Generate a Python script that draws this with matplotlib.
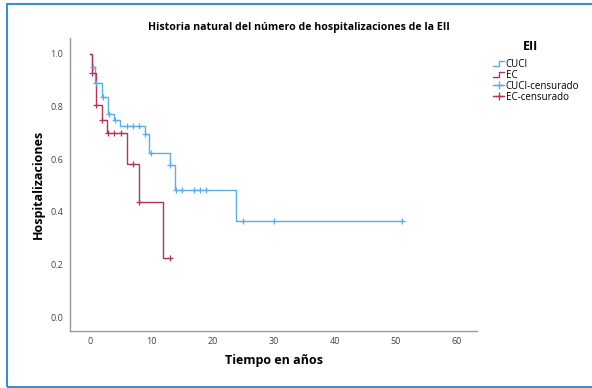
import numpy as np
import matplotlib.pyplot as plt
from matplotlib.lines import Line2D
from matplotlib.legend_handler import HandlerBase
from matplotlib.patches import Rectangle

plt.rcParams['font.family'] = ['Open Sans', 'DejaVu Sans']

# Kaplan-Meier curves (time in years, survival after the step)
cuci_t = [0, 0.3, 0.8, 2.0, 3.0, 4.0, 4.9, 9.0, 9.7, 13.0, 13.9, 23.9, 51.0]
cuci_s = [1.0, 0.95, 0.89, 0.836, 0.772, 0.749, 0.726, 0.696, 0.622, 0.579, 0.483, 0.365, 0.365]
cuci_cens = [0.45, 0.9, 2.1, 3.05, 4.05, 6.0, 7.0, 8.0, 9.05, 9.9, 13.05, 14.0, 15.1, 17.0, 18.0, 18.9, 25.0, 30.0, 51.0]

ec_t = [0, 0.3, 0.9, 1.9, 2.8, 6.0, 8.0, 12.0, 13.0]
ec_s = [1.0, 0.926, 0.806, 0.747, 0.698, 0.582, 0.438, 0.223, 0.223]
ec_cens = [0.4, 0.95, 2.0, 3.0, 4.0, 5.0, 7.0, 8.05, 13.0]

x_ticks = [0, 10, 20, 30, 40, 50, 60]
y_ticks = [0.0, 0.2, 0.4, 0.6, 0.8, 1.0]

BLUE = '#5aaee3'
RED = '#b3355c'


def step_value(t, times, surv):
    idx = np.searchsorted(times, t, side='right') - 1
    return surv[idx]


class StepHandler(HandlerBase):
    def create_artists(self, legend, orig_handle, xdescent, ydescent,
                       width, height, fontsize, trans):
        w, h = width, height
        xs = [0, 0.5 * w, 0.5 * w, w]
        ys = [0.15 * h, 0.15 * h, 0.85 * h, 0.85 * h]
        ln = Line2D(xs, ys, color=orig_handle.get_color(), lw=1.0, transform=trans)
        return [ln]


fig = plt.figure(figsize=(5.92, 3.88), dpi=100)
ax = fig.add_axes([0.118, 0.147, 0.688, 0.755])

ax.step(cuci_t, cuci_s, where='post', color=BLUE, lw=1.0)
ax.step(ec_t, ec_s, where='post', color=RED, lw=1.0)
ax.plot(cuci_cens, [step_value(t, cuci_t, cuci_s) for t in cuci_cens], '+',
        color=BLUE, ms=5, mew=0.9)
ax.plot(ec_cens, [step_value(t, ec_t, ec_s) for t in ec_cens], '+',
        color=RED, ms=5, mew=0.9)

ax.set_xlim(-3.3, 63.3)
ax.set_ylim(-0.053, 1.06)
ax.set_xticks(x_ticks)
ax.set_yticks(y_ticks)
ax.set_yticklabels([f'{v:.1f}' for v in y_ticks])
ax.tick_params(length=0, labelsize=6.5, labelcolor='#444444')
ax.tick_params(axis='x', pad=4)
ax.tick_params(axis='y', pad=5)
for s in ['top', 'right']:
    ax.spines[s].set_visible(False)
for s in ['left', 'bottom']:
    ax.spines[s].set_color('#999999')
    ax.spines[s].set_linewidth(1.0)

ax.set_xlabel('Tiempo en años', fontsize=9, fontweight='bold', labelpad=6)
ax.set_ylabel('Hospitalizaciones', fontsize=9, fontweight='bold', labelpad=3.5)
fig.text(0.505, 0.93, 'Historia natural del número de hospitalizaciones de la EII',
         ha='center', va='center', fontsize=7.6, fontweight='bold')

h_cuci = Line2D([], [], color=BLUE)
h_ec = Line2D([], [], color=RED)
h_cuci_c = Line2D([], [], color=BLUE, marker='+', ms=6, lw=1.0)
h_ec_c = Line2D([], [], color=RED, marker='+', ms=6, lw=1.0)
leg = fig.legend([h_cuci, h_ec, h_cuci_c, h_ec_c],
                 ['CUCI', 'EC', 'CUCI-censurado', 'EC-censurado'],
                 handler_map={h_cuci: StepHandler(), h_ec: StepHandler()},
                 loc='upper left', bbox_to_anchor=(0.822, 0.866),
                 frameon=False, fontsize=7, handlelength=1.1, handletextpad=0.15,
                 labelspacing=0.0, borderpad=0.2)
fig.text(530 / 592, 1 - 47 / 388, 'EII', ha='center', va='center',
         fontsize=9, fontweight='bold')

# figure border
fig.patches.append(Rectangle((7 / 592, 1 / 388), 1.2, 383 / 388,
                             transform=fig.transFigure, fill=False,
                             edgecolor='#3a8fd0', lw=1.5))

fig.savefig('out.png', dpi=100)
